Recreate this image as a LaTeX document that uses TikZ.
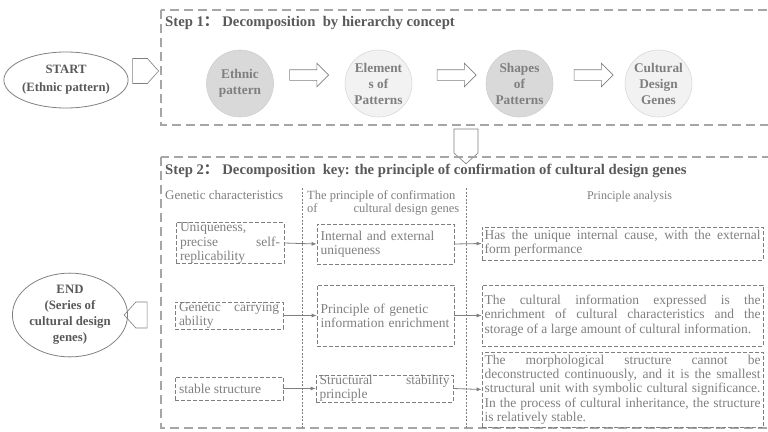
\documentclass[tikz,border=0pt]{standalone}
\usepackage{fontspec}
\setmainfont{Liberation Serif}
\newfontfamily\cjkfont{Noto Sans CJK SC}
\usetikzlibrary{arrows.meta, shapes.geometric, shapes.arrows, shapes.symbols}
\definecolor{dgTitle}{HTML}{595959}
\definecolor{dgText}{HTML}{7F7F7F}
\definecolor{dgFrame}{HTML}{A6A6A6}
\definecolor{dgDark}{HTML}{D9D9D9}
\definecolor{dgDarkLine}{HTML}{CFCFCF}
\definecolor{dgLight}{HTML}{F2F2F2}
\definecolor{dgLightLine}{HTML}{D9D9D9}

\begin{document}
\begin{tikzpicture}[x=1pt, y=-1pt,
      stepframe/.style={draw=dgFrame, line width=1.2pt, dash pattern=on 9pt off 5pt},
      steptitle/.style={font=\bfseries\fontsize{14.7}{16}\selectfont, text=dgTitle, inner sep=0pt},
      colhead/.style={font=\fontsize{12.5}{13}\selectfont, text=dgText, inner sep=0pt},
      divider/.style={draw=dgText, line width=0.6pt, dash pattern=on 2pt off 1.5pt},
      terminal/.style={ellipse, draw=dgText, line width=0.8pt, inner sep=0pt, align=center,
                       text=dgTitle},
      gene/.style={circle, minimum size=67pt, inner sep=0pt, align=center, text=dgText,
                   font=\bfseries\fontsize{13.3}{16}\selectfont, line width=0.6pt},
      geneA/.style={gene, fill=dgDark, draw=dgDarkLine},
      geneB/.style={gene, fill=dgLight, draw=dgLightLine},
      blockarrow/.style={single arrow, draw=dgText, fill=white, line width=0.6pt,
                         minimum height=39pt, inner xsep=0pt, inner ysep=5pt,
                         single arrow head extend=6.5pt},
      pentagon/.style={signal, draw=dgText, fill=white, line width=0.6pt, inner sep=0pt,
                       signal pointer angle=96},
      cell/.style={draw=dgText, line width=0.7pt, dash pattern=on 4pt off 2pt,
                   text=dgText, font=\fontsize{13.5}{14.3}\selectfont, inner ysep=0.3pt},
      gcell/.style={cell, minimum width=108pt, text width=100pt, inner xsep=4pt, align=justify},
      pcell/.style={cell, minimum width=137pt, text width=130pt, inner xsep=3.5pt},
      acell/.style={cell, minimum width=281pt, text width=276pt, inner xsep=2.5pt, align=justify},
      link/.style={-{Latex[length=5pt,width=4pt]}, draw=dgText, line width=0.8pt}]
    \useasboundingbox (0,0) rectangle (768,431);

    % start and step 1
    \node[terminal, minimum width=118pt, minimum height=56pt,
          font=\bfseries\fontsize{12.7}{18}\selectfont] (start) at (66,80)
      {START\\(Ethnic pattern)};
    \node[pentagon, signal to=east, minimum width=26pt, minimum height=25pt] (p1) at (140,71) {};
    \draw[stepframe] (161,10) rectangle (790,125);
    \node[steptitle, anchor=base west] (t1) at (165,27)
      {Step 1{\cjkfont ：}\ Decomposition\ \ by hierarchy concept};
    \node[geneA] (c1) at (240,83.5) {Ethnic\\pattern};
    \node[geneB] (c2) at (378.5,83.5) {Element\\s of\\Patterns};
    \node[geneA] (c3) at (519.5,83.5) {Shapes\\of\\Patterns};
    \node[geneB] (c4) at (658.5,83.5) {Cultural\\Design\\Genes};
    \node[blockarrow] (a1) at (306.5,75) {};
    \node[blockarrow] (a2) at (454,75) {};
    \node[blockarrow] (a3) at (591,75) {};
    \node[pentagon, signal to=south, minimum width=24pt, minimum height=24pt] (p2) at (466,141) {};

    % step 2
    \draw[stepframe] (161,157) rectangle (790,428);
    \node[steptitle, anchor=base west] (t2) at (165,174)
      {Step 2{\cjkfont ：}\ Decomposition\ \ key: the principle of confirmation of cultural design genes};
    \draw[divider] (302,188) -- (302,428);
    \draw[divider] (466,188) -- (466,428);
    \node[colhead, anchor=base west, font=\fontsize{13}{14}\selectfont] (h1) at (165,199)
      {Genetic characteristics};
    \node[colhead, text width=152pt, align=justify, anchor=north west] (h2) at (307,190.5)
      {The principle of confirmation\\ of\hfill cultural design genes};
    \node[colhead, anchor=base, font=\fontsize{12}{13}\selectfont] (h3) at (629.5,199)
      {Principle analysis};

    \node[gcell, minimum height=40pt] (l1) at (230,243)
      {Uniqueness,\\ precise self-\linebreak replicability};
    \node[gcell, minimum height=23pt] (l2) at (229,315.5)
      {Genetic carrying\linebreak ability};
    \node[gcell, minimum height=23pt] (l3) at (229,388.5) {stable structure};

    \node[pcell, minimum height=40pt, align=left] (m1) at (385.5,244)
      {Internal and external\\ uniqueness};
    \node[pcell, minimum height=61pt, align=left] (m2) at (385.5,315.5)
      {Principle of genetic\\ information enrichment};
    \node[pcell, minimum height=27pt, align=justify] (m3) at (384.5,388.5)
      {Structural stability\linebreak principle};

    \node[acell, minimum height=33pt] (r1) at (622.5,243.5)
      {Has the unique internal cause, with the external\linebreak form performance};
    \node[acell, minimum height=61pt] (r2) at (622.5,315.5)
      {The cultural information expressed is the\linebreak enrichment of cultural
       characteristics and the\linebreak storage of a large amount of cultural information.};
    \node[acell, minimum height=75pt] (r3) at (622.5,389.5)
      {The morphological structure cannot be\linebreak deconstructed continuously, and it
       is the smallest\linebreak structural unit with symbolic cultural
       significance.\linebreak In the process of cultural inheritance, the
       structure\linebreak is relatively stable.};

    \draw[link] (l1.east) -- (m1.west);
    \draw[link] (l2.east) -- (m2.west);
    \draw[link] (l3.east) -- (m3.west);
    \draw[link] (m1.east) -- (r1.west);
    \draw[link] (m2.east) -- (r2.west);
    \draw[link] (m3.east) -- (r3.west);

    % end
    \node[pentagon, signal to=west, minimum width=23pt, minimum height=26pt] (p3) at (141.5,315) {};
    \node[terminal, minimum width=115pt, minimum height=75pt,
          font=\bfseries\fontsize{12.8}{16}\selectfont] (end) at (70,315)
      {END\\(Series of\\cultural design\\genes)};
  \end{tikzpicture}
\end{document}
